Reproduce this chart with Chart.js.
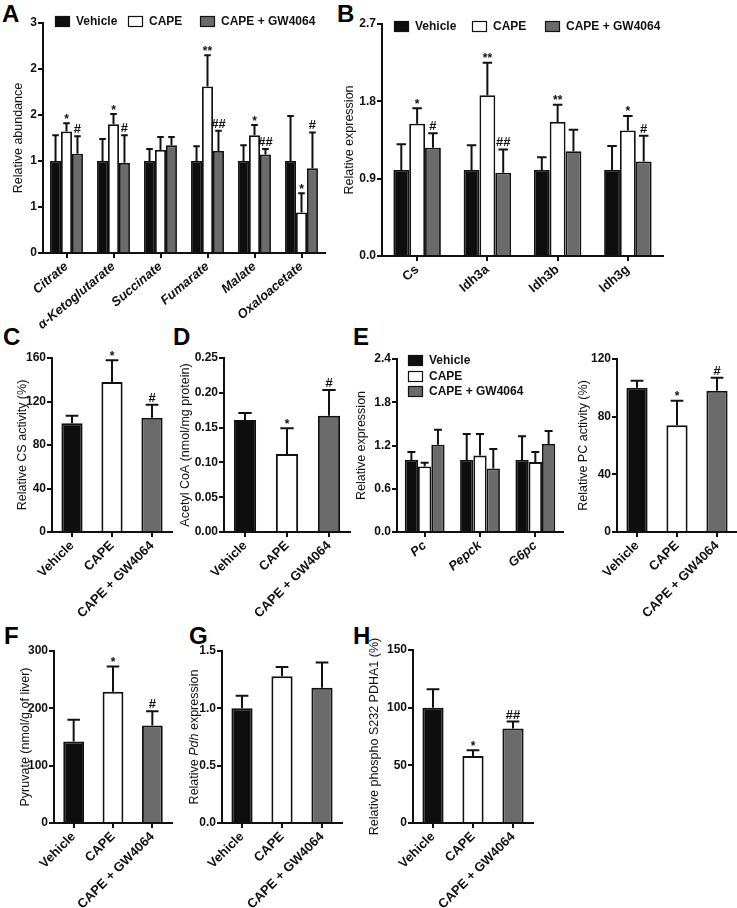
<!DOCTYPE html>
<html>
<head>
<meta charset="utf-8">
<script src="https://cdn.jsdelivr.net/npm/chart.js@4.4.1/dist/chart.umd.min.js"></script>
<style>
  body { margin: 0; background: #fff; }
  #fig { position: relative; width: 737px; height: 908px; overflow: hidden; }
  #fig canvas { position: absolute; }
  .letter { position: absolute; font: bold 24px "Liberation Sans", Arial, sans-serif; line-height: 24px; color: #000; }
</style>
</head>
<body>
<div id="fig">
  <div class="letter" style="left:2px;top:2px">A</div>
  <div class="letter" style="left:337px;top:2px">B</div>
  <div class="letter" style="left:3px;top:325px">C</div>
  <div class="letter" style="left:173px;top:325px">D</div>
  <div class="letter" style="left:353px;top:325px">E</div>
  <div class="letter" style="left:4px;top:624px">F</div>
  <div class="letter" style="left:189px;top:624px">G</div>
  <div class="letter" style="left:353px;top:624px">H</div>
</div>
<script>
// groups
var groupNames = ['Vehicle', 'CAPE', 'CAPE + GW4064'];

// A - TCA metabolites
var metabolites = ['Citrate', 'α-Ketoglutarate', 'Succinate', 'Fumarate', 'Malate', 'Oxaloacetate'];
var abundVehicle = [1.00, 1.00, 1.00, 1.00, 1.00, 1.00];
var abundCape = [1.32, 1.40, 1.12, 1.81, 1.28, 0.44];
var abundGw = [1.08, 0.98, 1.17, 1.11, 1.07, 0.92];
var abundVehicleSem = [0.28, 0.24, 0.13, 0.16, 0.17, 0.49];
var abundCapeSem = [0.09, 0.11, 0.14, 0.34, 0.11, 0.21];
var abundGwSem = [0.19, 0.30, 0.09, 0.22, 0.06, 0.39];
var abundCapeMarks = ['*', '*', '', '**', '*', '*'];
var abundGwMarks = ['#', '#', '', '##', '##', '#'];
var abundTicks = [0, 0.5, 1, 1.5, 2, 2.5];
var abundTickLabels = ['0', '1', '1', '2', '2', '3'];

// B - TCA genes
var tcaGenes = ['Cs', 'Idh3a', 'Idh3b', 'Idh3g'];
var tcaVehicle = [1.00, 1.00, 1.00, 1.00];
var tcaCape = [1.54, 1.87, 1.56, 1.46];
var tcaGw = [1.26, 0.97, 1.22, 1.10];
var tcaVehicleSem = [0.30, 0.29, 0.15, 0.28];
var tcaCapeSem = [0.18, 0.38, 0.20, 0.17];
var tcaGwSem = [0.17, 0.27, 0.25, 0.30];
var tcaCapeMarks = ['*', '**', '**', '*'];
var tcaGwMarks = ['#', '##', '', '#'];
var tcaTicks = [0, 0.9, 1.8, 2.7];
var tcaTickLabels = ['0.0', '0.9', '1.8', '2.7'];

// C - CS activity
var csActivity = [100, 138, 105];
var csActivitySem = [7, 20, 12];
var csMarks = ['', '*', '#'];
var csTicks = [0, 40, 80, 120, 160];
var csTickLabels = ['0', '40', '80', '120', '160'];

// D - acetyl CoA
var acetylCoa = [0.161, 0.112, 0.167];
var acetylCoaSem = [0.010, 0.037, 0.037];
var coaMarks = ['', '*', '#'];
var coaTicks = [0, 0.05, 0.10, 0.15, 0.20, 0.25];
var coaTickLabels = ['0.00', '0.05', '0.10', '0.15', '0.20', '0.25'];

// E - gluconeogenic genes
var gluGenes = ['Pc', 'Pepck', 'G6pc'];
var gluVehicle = [1.00, 1.00, 1.00];
var gluCape = [0.91, 1.06, 0.97];
var gluGw = [1.21, 0.88, 1.22];
var gluVehicleSem = [0.11, 0.36, 0.33];
var gluCapeSem = [0.05, 0.30, 0.14];
var gluGwSem = [0.21, 0.27, 0.18];
var gluTicks = [0, 0.6, 1.2, 1.8, 2.4];
var gluTickLabels = ['0.0', '0.6', '1.2', '1.8', '2.4'];

// E - PC activity
var pcActivity = [100, 74, 98];
var pcActivitySem = [5, 17, 9];
var pcMarks = ['', '*', '#'];
var pcTicks = [0, 40, 80, 120];
var pcTickLabels = ['0', '40', '80', '120'];

// F - pyruvate
var pyruvate = [142, 229, 170];
var pyruvateSem = [38, 44, 25];
var pyrMarks = ['', '*', '#'];
var pyrTicks = [0, 100, 200, 300];
var pyrTickLabels = ['0', '100', '200', '300'];

// G - Pdh expression
var pdhExpr = [1.00, 1.28, 1.18];
var pdhExprSem = [0.11, 0.08, 0.22];
var pdhMarks = ['', '', ''];
var pdhTicks = [0, 0.5, 1.0, 1.5];
var pdhTickLabels = ['0.0', '0.5', '1.0', '1.5'];

// H - phospho PDHA1
var phosPdha = [100, 58, 82];
var phosPdhaSem = [16, 5, 6];
var phosMarks = ['', '*', '##'];
var phosTicks = [0, 50, 100, 150];
var phosTickLabels = ['0', '50', '100', '150'];

var FONT = '"Liberation Sans", Arial, Helvetica, sans-serif';
var INK = '#111';
var groupColors = ['#0e0e0e', '#ffffff', '#6b6b6b'];
Chart.defaults.font.family = FONT;
Chart.defaults.color = INK;

var fig = document.getElementById('fig');

// error bars (upward only) + significance marks
var errorBars = {
  id: 'errorBars',
  afterDatasetsDraw: function(chart) {
    var ctx = chart.ctx;
    var y = chart.scales.y;
    chart.data.datasets.forEach(function(ds, di) {
      chart.getDatasetMeta(di).data.forEach(function(bar, i) {
        var yBase = y.getPixelForValue(ds.data[i]);
        var yTop = y.getPixelForValue(ds.data[i] + ds.sem[i]);
        var cap = Math.max(3, bar.width * 0.3);
        ctx.save();
        ctx.strokeStyle = INK;
        ctx.lineWidth = 2;
        ctx.beginPath();
        ctx.moveTo(bar.x, yBase);
        ctx.lineTo(bar.x, yTop);
        ctx.moveTo(bar.x - cap, yTop);
        ctx.lineTo(bar.x + cap, yTop);
        ctx.stroke();
        var m = ds.marks ? ds.marks[i] : '';
        if (m) {
          ctx.fillStyle = INK;
          ctx.textAlign = 'center';
          ctx.textBaseline = 'alphabetic';
          if (m.charAt(0) == '*') {
            ctx.font = 'bold 12px ' + FONT;
            ctx.fillText(m, bar.x, yTop - 0.5);
          } else {
            ctx.font = 'bold 13px ' + FONT;
            ctx.fillText(m, bar.x, yTop - 3);
          }
        }
        ctx.restore();
      });
    });
  }
};

// vertical axis title, drawn in parts so one word can be italic
function titlePlugin(parts) {
  return {
    id: 'yTitle',
    afterDraw: function(chart) {
      var ctx = chart.ctx;
      var a = chart.chartArea;
      ctx.save();
      ctx.fillStyle = INK;
      ctx.textBaseline = 'middle';
      ctx.textAlign = 'left';
      var total = 0;
      parts.forEach(function(p) {
        ctx.font = (p.italic ? 'italic ' : '') + '12.5px ' + FONT;
        p.w = ctx.measureText(p.text).width;
        total += p.w;
      });
      ctx.translate(7.5, (a.top + a.bottom) / 2);
      ctx.rotate(-Math.PI / 2);
      var x = -total / 2;
      parts.forEach(function(p) {
        ctx.font = (p.italic ? 'italic ' : '') + '12.5px ' + FONT;
        ctx.fillText(p.text, x, 0);
        x += p.w;
      });
      ctx.restore();
    }
  };
}

// box legend at given offsets from the chart area corner
function legendPlugin(items) {
  return {
    id: 'boxLegend',
    afterDraw: function(chart) {
      var ctx = chart.ctx;
      var a = chart.chartArea;
      ctx.save();
      items.forEach(function(it, k) {
        var bx = a.left + it.dx, by = a.top + it.dy;
        ctx.fillStyle = groupColors[k];
        ctx.fillRect(bx, by, 15, 11);
        ctx.strokeStyle = INK;
        ctx.lineWidth = 1.2;
        ctx.strokeRect(bx + 0.5, by + 0.5, 14, 10);
        ctx.fillStyle = INK;
        ctx.font = 'bold 12px ' + FONT;
        ctx.textBaseline = 'middle';
        ctx.textAlign = 'left';
        ctx.fillText(groupNames[k], bx + 21, by + 6);
      });
      ctx.restore();
    }
  };
}

function makePanel(p) {
  var canvas = document.createElement('canvas');
  canvas.width = p.w;
  canvas.height = p.h;
  canvas.style.left = p.left + 'px';
  canvas.style.top = p.top + 'px';
  canvas.style.width = p.w + 'px';
  canvas.style.height = p.h + 'px';
  fig.appendChild(canvas);

  var plugins = [errorBars, titlePlugin(p.title)];
  if (p.legend) plugins.push(legendPlugin(p.legend));

  return new Chart(canvas, {
    type: 'bar',
    data: { labels: p.labels, datasets: p.datasets },
    options: {
      responsive: false,
      animation: false,
      devicePixelRatio: 1,
      layout: { padding: { top: p.padTop, right: p.padRight, left: 0, bottom: 0 } },
      plugins: { legend: { display: false }, tooltip: { enabled: false } },
      scales: {
        x: {
          grid: { drawOnChartArea: false, tickLength: 5, offset: false, color: INK, lineWidth: 2 },
          border: { color: INK, width: 2 },
          ticks: {
            color: INK,
            font: { size: 13, weight: 'bold', style: p.italicX ? 'italic' : 'normal' },
            minRotation: p.rot, maxRotation: p.rot, autoSkip: false, padding: 1
          },
          afterFit: function(s) { s.height = p.xH; }
        },
        y: {
          min: p.ticks[0],
          max: p.ticks[p.ticks.length - 1],
          grid: { drawOnChartArea: false, tickLength: 5, color: INK, lineWidth: 2 },
          border: { color: INK, width: 2 },
          afterBuildTicks: function(s) {
            s.ticks = p.ticks.map(function(v) { return { value: v }; });
          },
          ticks: {
            color: INK,
            font: { size: 12, weight: 'bold' },
            padding: 1,
            callback: function(v, i) { return p.tickLabels[i]; }
          },
          afterFit: function(s) { s.width = p.yW; }
        }
      }
    },
    plugins: plugins
  });
}

function groupedSets(values, sems, marks, catPct) {
  return values.map(function(v, k) {
    return {
      label: groupNames[k],
      data: v,
      sem: sems[k],
      marks: marks[k],
      backgroundColor: groupColors[k],
      borderColor: INK,
      borderWidth: 1.8,
      categoryPercentage: catPct,
      barPercentage: 1
    };
  });
}

function singleSet(values, sem, marks) {
  return [{
    label: 'value',
    data: values,
    sem: sem,
    marks: marks,
    backgroundColor: groupColors,
    borderColor: INK,
    borderWidth: 2,
    categoryPercentage: 0.53,
    barPercentage: 1
  }];
}

var plainTitle = function(t) { return [{ text: t }]; };

// A
makePanel({
  left: 11, top: 5, w: 319, h: 330, padTop: 18, padRight: 5, yW: 32, xH: 82, rot: 40, italicX: true,
  labels: metabolites,
  datasets: groupedSets([abundVehicle, abundCape, abundGw], [abundVehicleSem, abundCapeSem, abundGwSem],
    [null, abundCapeMarks, abundGwMarks], 0.70),
  ticks: abundTicks, tickLabels: abundTickLabels,
  title: plainTitle('Relative abundance'),
  legend: [{ dx: 12, dy: -7 }, { dx: 85, dy: -7 }, { dx: 157, dy: -7 }]
});

// B
makePanel({
  left: 342, top: 6, w: 326, h: 310, padTop: 18, padRight: 5, yW: 40, xH: 60, rot: 40, italicX: false,
  labels: tcaGenes,
  datasets: groupedSets([tcaVehicle, tcaCape, tcaGw], [tcaVehicleSem, tcaCapeSem, tcaGwSem],
    [null, tcaCapeMarks, tcaGwMarks], 0.676),
  ticks: tcaTicks, tickLabels: tcaTickLabels,
  title: plainTitle('Relative expression'),
  legend: [{ dx: 12, dy: -3 }, { dx: 90, dy: -3 }, { dx: 163, dy: -3 }]
});

// C
makePanel({
  left: 15, top: 340, w: 162, h: 290, padTop: 18, padRight: 5, yW: 37, xH: 98, rot: 45,
  labels: groupNames, datasets: singleSet(csActivity, csActivitySem, csMarks),
  ticks: csTicks, tickLabels: csTickLabels,
  title: plainTitle('Relative CS activity (%)')
});

// D
makePanel({
  left: 178, top: 340, w: 177, h: 290, padTop: 18, padRight: 5, yW: 46, xH: 98, rot: 45,
  labels: groupNames, datasets: singleSet(acetylCoa, acetylCoaSem, coaMarks),
  ticks: coaTicks, tickLabels: coaTickLabels,
  title: plainTitle('Acetyl CoA (nmol/mg protein)')
});

// E left
makePanel({
  left: 354, top: 341, w: 214, h: 289, padTop: 18, padRight: 5, yW: 43, xH: 98, rot: 40, italicX: true,
  labels: gluGenes,
  datasets: groupedSets([gluVehicle, gluCape, gluGw], [gluVehicleSem, gluCapeSem, gluGwSem],
    [null, null, null], 0.72),
  ticks: gluTicks, tickLabels: gluTickLabels,
  title: plainTitle('Relative expression'),
  legend: [{ dx: 11, dy: -4 }, { dx: 11, dy: 12 }, { dx: 11, dy: 27 }]
});

// E right
makePanel({
  left: 576, top: 341, w: 161, h: 289, padTop: 18, padRight: 0, yW: 41, xH: 98, rot: 45,
  labels: groupNames, datasets: singleSet(pcActivity, pcActivitySem, pcMarks),
  ticks: pcTicks, tickLabels: pcTickLabels,
  title: plainTitle('Relative PC activity (%)')
});

// F
makePanel({
  left: 18, top: 633, w: 159, h: 275, padTop: 18, padRight: 5, yW: 36, xH: 85, rot: 45,
  labels: groupNames, datasets: singleSet(pyruvate, pyruvateSem, pyrMarks),
  ticks: pyrTicks, tickLabels: pyrTickLabels,
  title: plainTitle('Pyruvate (nmol/g of liver)')
});

// G
makePanel({
  left: 187, top: 633, w: 160, h: 275, padTop: 18, padRight: 5, yW: 35, xH: 85, rot: 45,
  labels: groupNames, datasets: singleSet(pdhExpr, pdhExprSem, pdhMarks),
  ticks: pdhTicks, tickLabels: pdhTickLabels,
  title: [{ text: 'Relative ' }, { text: 'Pdh', italic: true }, { text: ' expression' }]
});

// H
makePanel({
  left: 367, top: 632, w: 171, h: 276, padTop: 18, padRight: 5, yW: 46, xH: 85, rot: 45,
  labels: groupNames, datasets: singleSet(phosPdha, phosPdhaSem, phosMarks),
  ticks: phosTicks, tickLabels: phosTickLabels,
  title: plainTitle('Relative phospho S232 PDHA1 (%)')
});
</script>
</body>
</html>
